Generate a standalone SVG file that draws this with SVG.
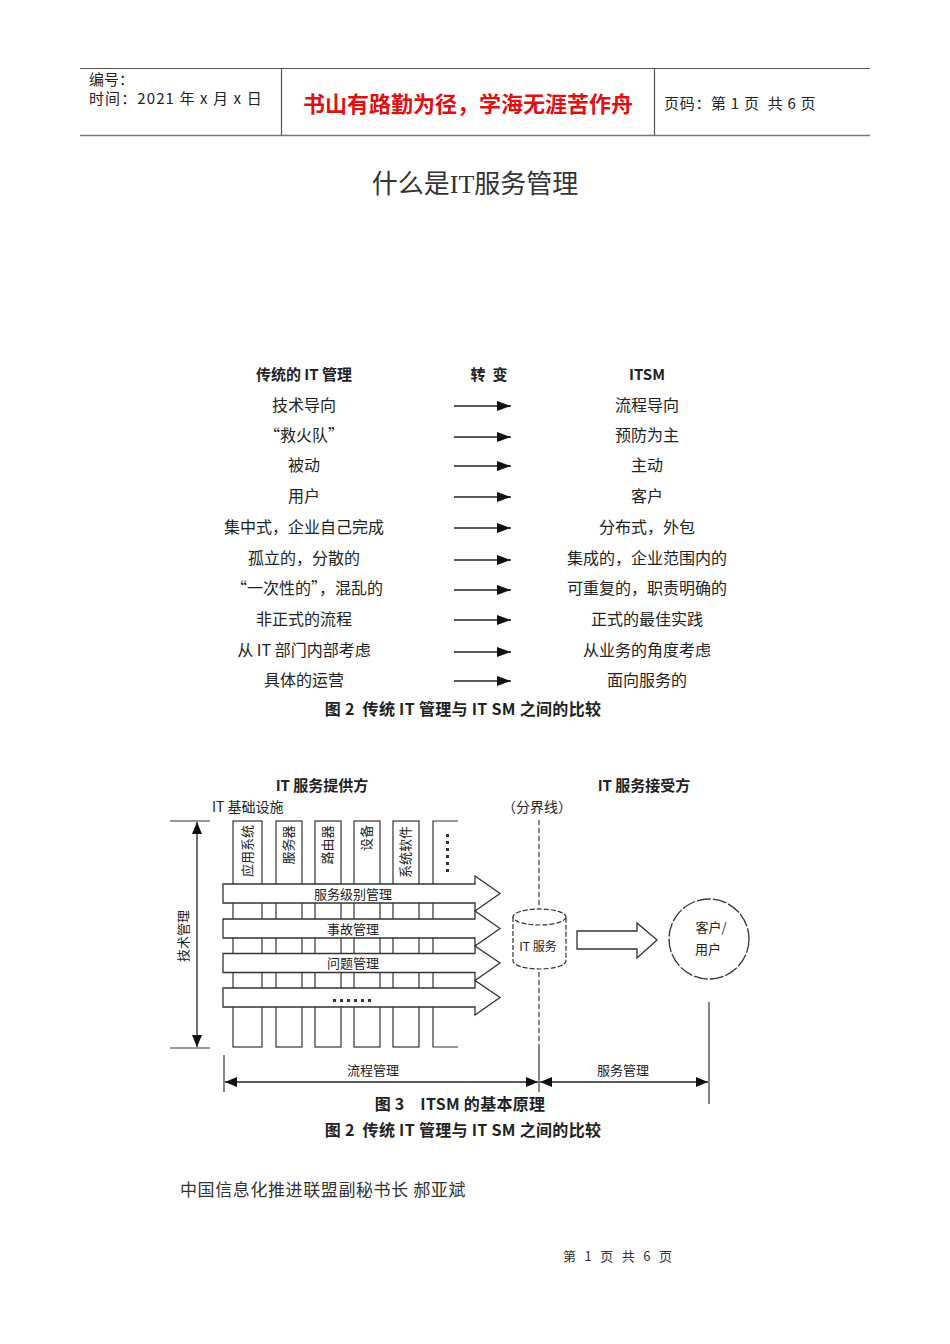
<svg xmlns="http://www.w3.org/2000/svg" width="950" height="1344" viewBox="0 0 950 1344" xml:space="preserve">
<defs>
<style>
text{font-family:"Noto Sans CJK SC","Liberation Sans",sans-serif;fill:#222;white-space:pre}
.hdr{font-size:15px}
.red{font-size:22px;font-weight:bold;fill:#e01010}
.ttl{font-family:"Liberation Serif","Noto Sans CJK SC",serif;font-size:26px;fill:#333}
.row{font-size:16px;text-anchor:middle}
.bh{font-size:15px;font-weight:bold;text-anchor:middle}
.cap{font-size:16px;font-weight:bold;text-anchor:middle;letter-spacing:0.3px}
.lab{font-size:14px}
.sm{font-size:13px;text-anchor:middle}
.ln{stroke:#222;stroke-width:1.3;fill:none}
.thin{stroke:#333;stroke-width:1.2;fill:none}
.bar{fill:#fff;stroke:#333;stroke-width:1.3}
.foot{font-size:17px;fill:#333;letter-spacing:0.6px}
</style>
<marker id="ah" viewBox="0 0 14 10" refX="14" refY="5" markerWidth="14" markerHeight="10" markerUnits="userSpaceOnUse" orient="auto"><path d="M0,0 L14,5 L0,10 Z" fill="#111"/></marker>
<marker id="dah" viewBox="0 0 12 10" refX="12" refY="5" markerWidth="12" markerHeight="10" markerUnits="userSpaceOnUse" orient="auto-start-reverse"><path d="M0,0 L12,5 L0,10 Z" fill="#111"/></marker>
</defs>
<rect width="950" height="1344" fill="#fff"/>

<g id="header">
<line x1="80" y1="68.5" x2="870" y2="68.5" stroke="#555" stroke-width="1.2"/>
<line x1="80" y1="135.5" x2="870" y2="135.5" stroke="#777" stroke-width="1.6"/>
<line x1="281.5" y1="68" x2="281.5" y2="135" stroke="#555" stroke-width="1.2"/>
<line x1="654.5" y1="68" x2="654.5" y2="135" stroke="#555" stroke-width="1.2"/>
<text class="hdr" x="89" y="85">编号：</text>
<text class="hdr" x="89" y="104" style="letter-spacing:1.1px">时间：2021 年 x 月 x 日</text>
<text class="red" x="468" y="112" text-anchor="middle">书山有路勤为径，学海无涯苦作舟</text>
<text class="hdr" x="664" y="109" style="letter-spacing:0.7px">页码：第 1 页  共 6 页</text>
</g>

<text class="ttl" x="475" y="193" text-anchor="middle">什么是IT服务管理</text>

<g id="table">
<text class="bh" x="304" y="380">传统的 IT 管理</text>
<text class="bh" x="489" y="380">转  变</text>
<text class="bh" x="647" y="380">ITSM</text>
<g id="col-left">
<text class="row" x="304" y="411">技术导向</text>
<text class="row" x="304" y="441">“救火队”</text>
<text class="row" x="304" y="471">被动</text>
<text class="row" x="304" y="502">用户</text>
<text class="row" x="304" y="533">集中式，企业自己完成</text>
<text class="row" x="304" y="564">孤立的，分散的</text>
<text class="row" x="307" y="594">“一次性的”，混乱的</text>
<text class="row" x="304" y="625">非正式的流程</text>
<text class="row" x="304" y="656">从 IT 部门内部考虑</text>
<text class="row" x="304" y="686">具体的运营</text>
</g>
<g id="col-right">
<text class="row" x="647" y="411">流程导向</text>
<text class="row" x="647" y="441">预防为主</text>
<text class="row" x="647" y="471">主动</text>
<text class="row" x="647" y="502">客户</text>
<text class="row" x="647" y="533">分布式，外包</text>
<text class="row" x="647" y="564">集成的，企业范围内的</text>
<text class="row" x="647" y="594">可重复的，职责明确的</text>
<text class="row" x="647" y="625">正式的最佳实践</text>
<text class="row" x="647" y="656">从业务的角度考虑</text>
<text class="row" x="647" y="686">面向服务的</text>
</g>
<g id="table-arrows" class="ln" marker-end="url(#ah)">
<line x1="454" y1="406" x2="511" y2="406"/>
<line x1="454" y1="437" x2="511" y2="437"/>
<line x1="454" y1="466" x2="511" y2="466"/>
<line x1="454" y1="497" x2="511" y2="497"/>
<line x1="454" y1="528" x2="511" y2="528"/>
<line x1="454" y1="560" x2="511" y2="560"/>
<line x1="454" y1="590" x2="511" y2="590"/>
<line x1="454" y1="620" x2="511" y2="620"/>
<line x1="454" y1="652" x2="511" y2="652"/>
<line x1="454" y1="681" x2="511" y2="681"/>
</g>
<text class="cap" x="463" y="715">图 2  传统 IT 管理与 IT SM 之间的比较</text>
</g>

<g id="figure3">
<text class="bh" x="322" y="791">IT 服务提供方</text>
<text class="bh" x="644" y="791">IT 服务接受方</text>
<text class="lab" x="212" y="812">IT 基础设施</text>
<text class="lab" x="537" y="812" text-anchor="middle">（分界线）</text>

<g id="tech-mgmt">
<line class="thin" x1="170" y1="821" x2="210" y2="821"/>
<line class="thin" x1="170" y1="1048" x2="210" y2="1048"/>
<line class="ln" x1="197" y1="822" x2="197" y2="1047" marker-start="url(#dah)" marker-end="url(#dah)"/>
<text class="sm" transform="translate(188,936) rotate(-90)">技术管理</text>
</g>

<g id="columns" class="thin">
<rect x="233" y="821" width="29" height="226" fill="#fff"/>
<rect x="276" y="821" width="26" height="226" fill="#fff"/>
<rect x="315" y="821" width="26" height="226" fill="#fff"/>
<rect x="354" y="821" width="26" height="226" fill="#fff"/>
<rect x="393" y="821" width="26" height="226" fill="#fff"/>
<path d="M458,821 H433 V1047 H458"/>
</g>
<g id="column-labels">
<text class="sm" transform="translate(252,851) rotate(-90)">应用系统</text>
<text class="sm" transform="translate(293,845) rotate(-90)">服务器</text>
<text class="sm" transform="translate(332,845) rotate(-90)">路由器</text>
<text class="sm" transform="translate(371,838) rotate(-90)">设备</text>
<text class="sm" transform="translate(410,852) rotate(-90)">系统软件</text>
<g fill="#333"><rect x="446" y="834" width="3" height="3"/><rect x="446" y="841" width="3" height="3"/><rect x="446" y="848" width="3" height="3"/><rect x="446" y="855" width="3" height="3"/><rect x="446" y="862" width="3" height="3"/><rect x="446" y="869" width="3" height="3"/></g>
</g>

<g id="bars">
<polygon class="bar" points="223,884 475,884 475,876 500,893.5 475,911 475,903 223,903"/>
<polygon class="bar" points="223,919 475,919 475,911 500,928.5 475,946 475,938 223,938"/>
<polygon class="bar" points="223,953.5 475,953.5 475,946 500,963 475,980.5 475,972.5 223,972.5"/>
<polygon class="bar" points="223,988 475,988 475,980.5 500,997.5 475,1015 475,1007 223,1007"/>
<text class="sm" x="353" y="899">服务级别管理</text>
<text class="sm" x="353" y="934">事故管理</text>
<text class="sm" x="353" y="968">问题管理</text>
<g fill="#333"><rect x="333" y="999" width="3" height="3"/><rect x="340" y="999" width="3" height="3"/><rect x="347" y="999" width="3" height="3"/><rect x="354" y="999" width="3" height="3"/><rect x="361" y="999" width="3" height="3"/><rect x="368" y="999" width="3" height="3"/></g>
</g>

<g id="divider">
<line x1="539" y1="820" x2="539" y2="1048" stroke="#333" stroke-width="1.2" stroke-dasharray="5,3"/>
<line x1="539" y1="1048" x2="539" y2="1092" stroke="#333" stroke-width="1.2"/>
</g>

<g id="it-service">
<path d="M513,917 V961 A26.5,8 0 0 0 566,961 V917" fill="#fff" stroke="#333" stroke-width="1.2" stroke-dasharray="5,2"/>
<ellipse cx="539.5" cy="917" rx="26.5" ry="8" fill="#fff" stroke="#333" stroke-width="1.2" stroke-dasharray="5,2"/>
<text class="sm" x="538" y="951" style="font-size:12px">IT 服务</text>
</g>

<g id="deliver-arrow">
<polygon points="577,931 637,931 637,923 657,940 637,958 637,949 577,949" fill="#fff" stroke="#333" stroke-width="1.3"/>
</g>

<g id="customer">
<circle cx="709" cy="939" r="40" fill="#fff" stroke="#333" stroke-width="1.3" stroke-dasharray="14,2"/>
<text class="sm" x="711" y="932">客户/</text>
<text class="sm" x="708" y="954">用户</text>
</g>

<g id="connectors">
<line class="thin" x1="709" y1="1002" x2="709" y2="1104"/>
<line class="thin" x1="224" y1="1055" x2="224" y2="1092"/>
<line class="ln" x1="225" y1="1082" x2="538" y2="1082" marker-start="url(#dah)" marker-end="url(#dah)"/>
<line class="ln" x1="540" y1="1082" x2="708" y2="1082" marker-start="url(#dah)" marker-end="url(#dah)"/>
</g>
<text class="sm" x="373" y="1075">流程管理</text>
<text class="sm" x="623" y="1075">服务管理</text>
<text class="cap" x="460" y="1110">图 3    ITSM 的基本原理</text>
<text class="cap" x="463" y="1136">图 2  传统 IT 管理与 IT SM 之间的比较</text>
</g>

<text class="foot" x="180" y="1196">中国信息化推进联盟副秘书长 郝亚斌</text>
<text x="563" y="1261" style="font-size:13px;fill:#333;letter-spacing:0.9px">第  1  页  共  6  页</text>
</svg>
